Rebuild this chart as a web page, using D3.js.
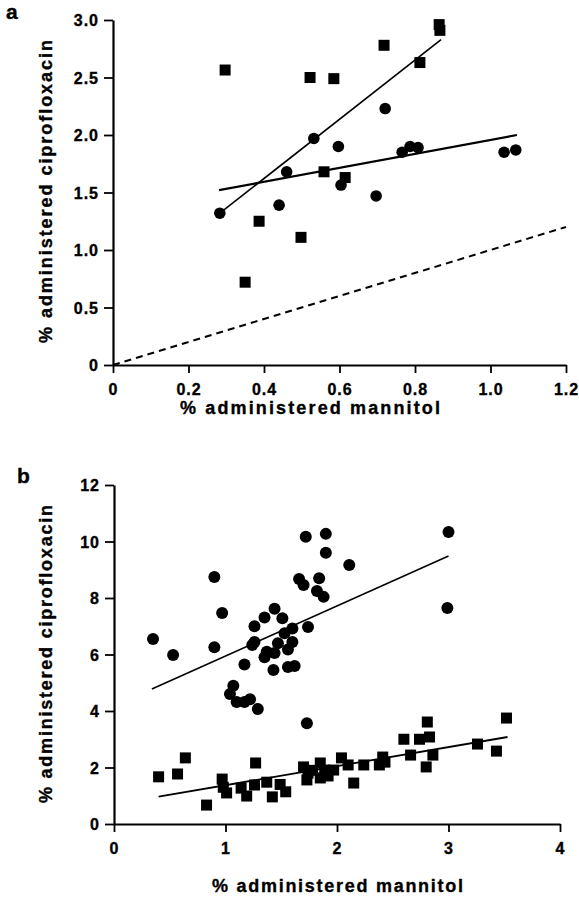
<!DOCTYPE html>
<html>
<head>
<meta charset="utf-8">
<script src="https://d3js.org/d3.v7.min.js"></script>
<style>
  body { margin: 0; background: #fff; }
  text { font-family: "Liberation Sans", Arial, sans-serif; font-weight: bold; fill: #000; }
</style>
</head>
<body>
<div id="vis"></div>
<script>
// ---- panel a data ----
var aSquares = [
  [0.297, 2.565], [0.522, 2.50], [0.585, 2.49], [0.718, 2.78], [0.813, 2.63],
  [0.864, 2.96], [0.866, 2.91], [0.559, 1.68], [0.615, 1.63], [0.387, 1.25],
  [0.350, 0.72], [0.498, 1.11]
];
var aCircles = [
  [0.283, 1.32], [0.440, 1.39], [0.460, 1.68], [0.532, 1.97], [0.597, 1.90],
  [0.604, 1.565], [0.697, 1.47], [0.721, 2.23], [0.766, 1.85], [0.787, 1.90],
  [0.808, 1.89], [1.036, 1.85], [1.067, 1.87]
];
var aFitSteep = [[0.283, 1.32], [0.869, 2.83]];
var aFitFlat = [[0.281, 1.52], [1.07, 2.0]];
var aIdentity = [[0, 0], [1.2, 1.2]];
var aXTicks = [0, 0.2, 0.4, 0.6, 0.8, 1.0, 1.2];
var aXLabels = ["0", "0.2", "0.4", "0.6", "0.8", "1.0", "1.2"];
var aYTicks = [0, 0.5, 1.0, 1.5, 2.0, 2.5, 3.0];
var aYLabels = ["0", "0.5", "1.0", "1.5", "2.0", "2.5", "3.0"];

// ---- panel b data ----
var bCircles = [
  [0.35, 6.55], [0.53, 5.98], [0.90, 8.74], [0.97, 7.47], [0.90, 6.26],
  [1.04, 4.60], [1.07, 4.89], [1.10, 4.32], [1.17, 4.32], [1.22, 4.42],
  [1.29, 4.07], [1.17, 5.65], [1.24, 6.34], [1.26, 6.44], [1.26, 7.00],
  [1.35, 7.31], [1.44, 7.62], [1.51, 7.28], [1.35, 5.90], [1.37, 6.10],
  [1.44, 6.05], [1.43, 5.45], [1.47, 6.40], [1.53, 6.75], [1.56, 6.18],
  [1.60, 6.44], [1.60, 6.92], [1.56, 5.56], [1.62, 5.59], [1.74, 6.97],
  [1.66, 8.67], [1.70, 8.46], [1.84, 8.70], [1.82, 8.25], [1.88, 8.04],
  [1.72, 10.17], [1.90, 10.27], [1.90, 9.60], [2.11, 9.17], [3.00, 10.34],
  [2.99, 7.65], [1.73, 3.57]
];
var bSquares = [
  [0.40, 1.67], [0.57, 1.77], [0.64, 2.34], [0.83, 0.67], [0.97, 1.59],
  [1.01, 1.10], [0.98, 1.30], [1.14, 1.27], [1.19, 0.99], [1.27, 2.16],
  [1.26, 1.38], [1.37, 1.48], [1.42, 0.96], [1.49, 1.40], [1.54, 1.14],
  [1.70, 2.02], [1.73, 1.56], [1.74, 1.80], [1.85, 2.16], [1.85, 1.63],
  [1.89, 1.91], [1.97, 1.91], [1.78, 1.90], [1.92, 1.70], [2.04, 2.34],
  [2.10, 2.09], [2.15, 1.45], [2.24, 2.09], [2.38, 2.09], [2.41, 2.37],
  [2.43, 2.19], [2.60, 3.00], [2.66, 2.44], [2.74, 3.00], [2.81, 3.61],
  [2.83, 3.08], [2.80, 2.02], [2.86, 2.44], [3.26, 2.83], [3.43, 2.58],
  [3.52, 3.75]
];
var bFitCircles = [[0.34, 4.78], [3.0, 9.49]];
var bFitSquares = [[0.40, 0.97], [3.53, 3.08]];
var bXTicks = [0, 1, 2, 3, 4];
var bXLabels = ["0", "1", "2", "3", "4"];
var bYTicks = [0, 2, 4, 6, 8, 10, 12];
var bYLabels = ["0", "2", "4", "6", "8", "10", "12"];

var W = 579, H = 901;
var svg = d3.select("#vis").append("svg")
  .attr("width", W).attr("height", H);

function boldText(sel, size) {
  sel.style("font-size", size + "px")
    .style("font-family", "'Liberation Sans', Arial, sans-serif")
    .style("font-weight", "bold")
    .attr("stroke", "#000").attr("stroke-width", 0.35);
}

function panel(opt) {
  var x = d3.scaleLinear().domain(opt.xDomain).range(opt.xRange);
  var y = d3.scaleLinear().domain(opt.yDomain).range(opt.yRange);
  var g = svg.append("g");

  // x axis
  var xa = g.append("g")
    .attr("transform", "translate(0," + opt.yRange[0] + ")")
    .call(d3.axisBottom(x).tickValues(opt.xTicks).tickSize(8).tickSizeOuter(0)
      .tickFormat(function (d, i) { return opt.xLabels[i]; }));
  // y axis
  var ya = g.append("g")
    .attr("transform", "translate(" + opt.xRange[0] + ",0)")
    .call(d3.axisLeft(y).tickValues(opt.yTicks).tickSize(9).tickSizeOuter(0)
      .tickFormat(function (d, i) { return opt.yLabels[i]; }));

  g.selectAll(".domain").attr("stroke", "#000").attr("stroke-width", 2.2);
  g.selectAll(".tick line").attr("stroke", "#000").attr("stroke-width", 1.8);
  xa.selectAll(".tick text").attr("dy", null).attr("y", 30)
    .style("letter-spacing", "1px").call(boldText, 16);
  ya.selectAll(".tick text").attr("x", -14).attr("dy", "0.36em")
    .style("letter-spacing", "1px").call(boldText, 16);

  var line = d3.line().x(function (d) { return x(d[0]); }).y(function (d) { return y(d[1]); });

  (opt.dashed || []).forEach(function (l) {
    g.append("path").attr("d", line(l)).attr("fill", "none")
      .attr("stroke", "#000").attr("stroke-width", 2).attr("stroke-dasharray", "7,5");
  });
  opt.fits.forEach(function (f) {
    g.append("path").attr("d", line(f.pts)).attr("fill", "none")
      .attr("stroke", "#000").attr("stroke-width", f.w);
  });

  var s = opt.sq;
  g.selectAll(null).data(opt.squares).enter().append("rect")
    .attr("x", function (d) { return x(d[0]) - s / 2; })
    .attr("y", function (d) { return y(d[1]) - s / 2; })
    .attr("width", s).attr("height", s).attr("fill", "#000");
  g.selectAll(null).data(opt.circles).enter().append("circle")
    .attr("cx", function (d) { return x(d[0]); })
    .attr("cy", function (d) { return y(d[1]); })
    .attr("r", opt.r).attr("fill", "#000");

  // axis titles
  g.append("text")
    .attr("x", opt.xTitle[0]).attr("y", opt.xTitle[1])
    .attr("textLength", opt.xTitle[2]).attr("lengthAdjust", "spacing")
    .call(boldText, 18)
    .text("% administered mannitol");
  g.append("text")
    .attr("transform", "translate(" + opt.yTitle[0] + "," + opt.yTitle[1] + ") rotate(-90)")
    .attr("textLength", opt.yTitle[2]).attr("lengthAdjust", "spacing")
    .call(boldText, 18)
    .text("% administered ciprofloxacin");
  g.append("text")
    .attr("x", opt.letter[0]).attr("y", opt.letter[1])
    .call(boldText, 21)
    .text(opt.letter[2]);
}

panel({
  xDomain: [0, 1.2], xRange: [113, 566],
  yDomain: [0, 3], yRange: [365, 20],
  xTicks: aXTicks, xLabels: aXLabels, yTicks: aYTicks, yLabels: aYLabels,
  squares: aSquares, circles: aCircles, sq: 11, r: 5.8,
  fits: [{ pts: aFitSteep, w: 1.6 }, { pts: aFitFlat, w: 2.2 }],
  dashed: [aIdentity],
  xTitle: [180, 414, 260], yTitle: [52, 343, 303], letter: [6, 19, "a"]
});

panel({
  xDomain: [0, 4], xRange: [114, 560],
  yDomain: [0, 12], yRange: [824, 485],
  xTicks: bXTicks, xLabels: bXLabels, yTicks: bYTicks, yLabels: bYLabels,
  squares: bSquares, circles: bCircles, sq: 11, r: 6,
  fits: [{ pts: bFitCircles, w: 1.6 }, { pts: bFitSquares, w: 1.8 }],
  xTitle: [212, 892, 251], yTitle: [52, 803, 298], letter: [17, 483, "b"]
});
</script>
</body>
</html>
